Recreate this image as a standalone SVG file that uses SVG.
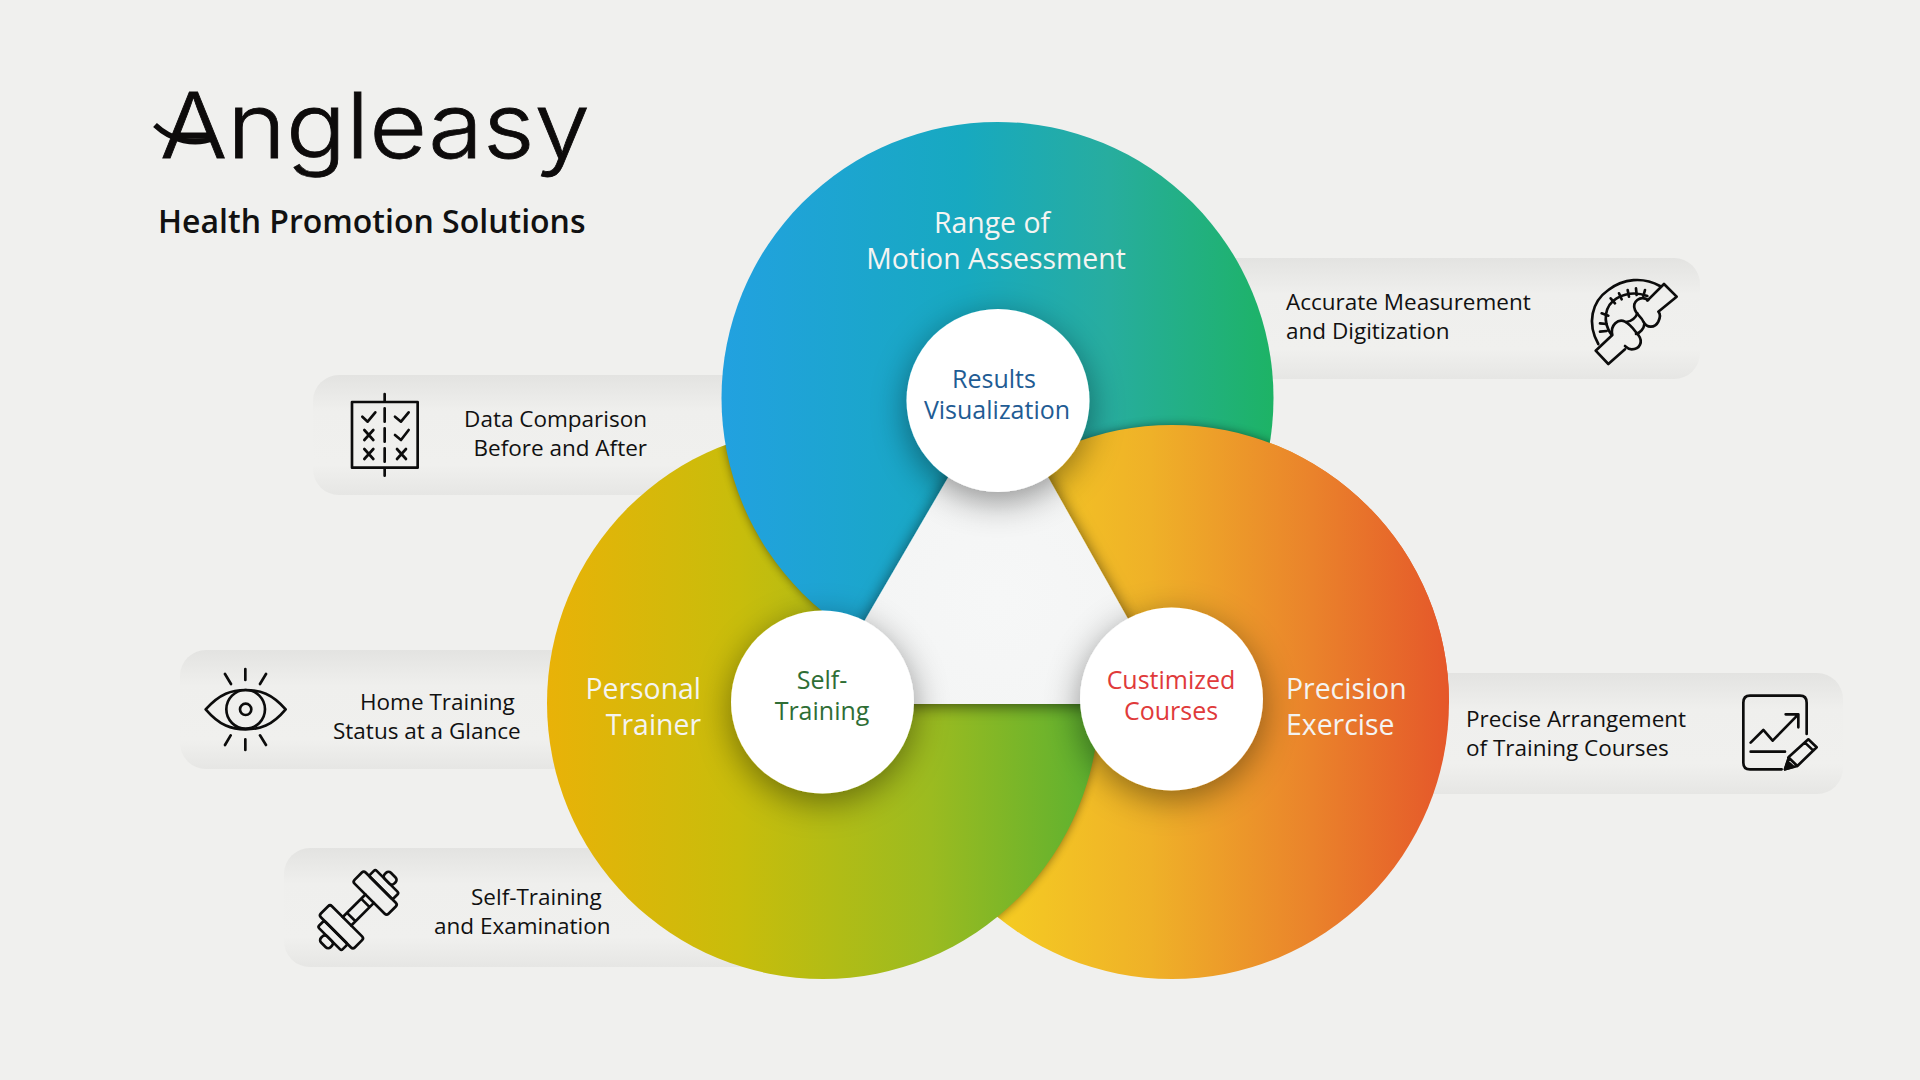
<svg xmlns="http://www.w3.org/2000/svg" width="1920" height="1080" viewBox="0 0 1920 1080">
<style>
text{font-family:"Open Sans","Noto Sans","Liberation Sans",sans-serif}
.p{font-size:22.5px;fill:#111}
.t{font-size:28.4px;fill:#f4f4f2;font-weight:500}
.c{font-size:25px;font-weight:500}
.i{fill:none;stroke:#0c0c0c;stroke-width:8;stroke-linecap:round;stroke-linejoin:round}
.pill{fill:url(#pg)}
</style>
<defs>
<linearGradient id="pg" x1="0" y1="0" x2="0" y2="1"><stop offset="0" stop-color="#e3e3e1"/><stop offset=".3" stop-color="#efefed"/><stop offset=".75" stop-color="#f0f0ee"/><stop offset="1" stop-color="#e6e6e4"/></linearGradient>
<linearGradient id="gb" gradientUnits="userSpaceOnUse" x1="721" y1="0" x2="1274" y2="0"><stop offset="0" stop-color="#22a1e0"/><stop offset=".44" stop-color="#17a9c0"/><stop offset=".7" stop-color="#27ad9f"/><stop offset="1" stop-color="#1db365"/></linearGradient>
<linearGradient id="go" gradientUnits="userSpaceOnUse" x1="990" y1="0" x2="1449" y2="0"><stop offset="0" stop-color="#f5cd22"/><stop offset=".35" stop-color="#efb128"/><stop offset=".7" stop-color="#ea832b"/><stop offset="1" stop-color="#e5572a"/></linearGradient>
<linearGradient id="gg" gradientUnits="userSpaceOnUse" x1="546" y1="0" x2="1096" y2="0"><stop offset="0" stop-color="#e9b208"/><stop offset=".35" stop-color="#c8bd0b"/><stop offset=".7" stop-color="#9bbb20"/><stop offset="1" stop-color="#5cb130"/></linearGradient>
<radialGradient id="gt" gradientUnits="userSpaceOnUse" cx="998" cy="600" r="200"><stop offset="0" stop-color="#f6f7f7"/><stop offset="1" stop-color="#f3f4f4"/></radialGradient>
<filter id="b" x="-10%" y="-10%" width="120%" height="120%"><feGaussianBlur stdDeviation="5"/></filter>
<filter id="ts" x="-15%" y="-15%" width="130%" height="130%"><feDropShadow dx="0" dy="2" stdDeviation="8" flood-color="#000" flood-opacity=".6"/></filter>
<filter id="cs" x="-40%" y="-40%" width="180%" height="180%"><feDropShadow dx="0" dy="9" stdDeviation="17" flood-color="#000" flood-opacity=".42"/></filter>
<clipPath id="cb"><circle cx="997.5" cy="398" r="276"/></clipPath>
<clipPath id="cg"><circle cx="823" cy="703" r="276"/></clipPath>
<clipPath id="co"><circle cx="1172" cy="702" r="277"/></clipPath>
<clipPath id="rg"><path d="M998 600L998 0L1920 0L1920 702L1172 702Z"/></clipPath>
</defs>
<rect width="1920" height="1080" fill="#f0f0ee"/>
<g id="logo">
<text x="160" y="158" font-size="91" font-weight="300" textLength="430" lengthAdjust="spacingAndGlyphs" stroke="#0d0b0b" stroke-width=".8" style="fill:#0d0b0b;font-family:Inter,'Open Sans',sans-serif">Angleasy</text>
<path d="M155 125C172 141 195 146 214 138" fill="none" stroke="#0d0b0b" stroke-width="5.5"/>
<text x="158" y="233" font-size="32" font-weight="600" fill="#111">Health Promotion Solutions</text>
</g>
<g id="pills">
<rect class="pill" x="1180" y="258" width="520" height="121" rx="26"/>
<rect class="pill" x="313" y="375" width="520" height="120" rx="26"/>
<rect class="pill" x="180" y="650" width="500" height="119" rx="26"/>
<rect class="pill" x="284" y="848" width="560" height="119" rx="26"/>
<rect class="pill" x="1340" y="673" width="503" height="121" rx="26"/>
</g>
<g id="petals">
<circle cx="1172" cy="702" r="277" fill="url(#go)"/>
<g clip-path="url(#co)"><circle cx="823" cy="703" r="276" fill="#000" opacity=".45" filter="url(#b)"/></g>
<circle cx="823" cy="703" r="276" fill="url(#gg)"/>
<g clip-path="url(#cg)"><circle cx="997.5" cy="398" r="276" fill="#000" opacity=".45" filter="url(#b)"/></g>
<circle cx="997.5" cy="398" r="276" fill="url(#gb)"/>
<g clip-path="url(#rg)">
<g clip-path="url(#cb)"><circle cx="1172" cy="702" r="277" fill="#000" opacity=".45" filter="url(#b)"/></g>
<circle cx="1172" cy="702" r="277" fill="url(#go)"/>
</g>
<path id="triangle" d="M999 390L816 704L1176 704Z" fill="url(#gt)" filter="url(#ts)"/>
</g>
<g id="node-range"><text class="t" x="992" y="233" text-anchor="middle">Range of</text><text class="t" x="996" y="269" text-anchor="middle">Motion Assessment</text></g>
<g id="node-personal"><text class="t" x="701" y="699" text-anchor="end">Personal</text><text class="t" x="701" y="735" text-anchor="end">Trainer</text></g>
<g id="node-precision"><text class="t" x="1286" y="699">Precision</text><text class="t" x="1286" y="735">Exercise</text></g>
<g id="node-results"><circle cx="998" cy="400.5" r="91.5" fill="#fff" filter="url(#cs)"/><text class="c" x="994" y="388" text-anchor="middle" fill="#1f5c94">Results</text><text class="c" x="997" y="419" text-anchor="middle" fill="#1f5c94">Visualization</text></g>
<g id="node-self"><circle cx="822.5" cy="702" r="91.5" fill="#fff" filter="url(#cs)"/><text class="c" x="822" y="689" text-anchor="middle" fill="#2f6e35">Self-</text><text class="c" x="822" y="720" text-anchor="middle" fill="#2f6e35">Training</text></g>
<g id="node-custom"><circle cx="1171.5" cy="699" r="91.5" fill="#fff" filter="url(#cs)"/><text class="c" x="1171" y="689" text-anchor="middle" fill="#e03a3a">Custimized</text><text class="c" x="1171" y="720" text-anchor="middle" fill="#e03a3a">Courses</text></g>
<g id="item-measurement">
<text class="p" x="1286" y="310">Accurate Measurement</text><text class="p" x="1286" y="339">and Digitization</text>
<g class="i" transform="translate(1560 260) scale(.3333)">
<path d="M115 252C80 190 95 125 145 90C190 55 250 50 300 78"/>
<path d="M155 225C125 185 135 135 170 115C200 98 235 98 262 108"/>
<path d="M120 215L140 213M120 190L140 192M125 160L145 167M152 115L165 130M177 100L185 118M203 90L207 110M228 85L230 105M255 90L250 108"/>
<path d="M195 268L145 312L107 272L157 225C150 195 175 175 195 185C215 195 225 215 235 225C250 245 240 268 215 268C205 268 200 262 195 258"/>
<path d="M265 120C240 105 215 125 225 150C230 165 245 170 250 185C260 205 285 205 295 185C302 170 300 160 295 155L350 110L312 72L262 122"/>
<path d="M198 186C215 185 228 172 232 160M228 222C242 218 252 205 253 192"/>
</g>
</g>
<g id="item-comparison">
<text class="p" x="647" y="427" text-anchor="end">Data Comparison</text><text class="p" x="647" y="456" text-anchor="end">Before and After</text>
<g class="i" transform="translate(330 380) scale(.3333)">
<rect x="66" y="66" width="197" height="197"/>
<path d="M164 42V64M164 85V125M164 145V185M164 205V245M164 265V287"/>
<path d="M97 110L113 125L136 97M195 110L213 125L236 97M195 165L213 180L236 150"/>
<path d="M103 150L130 180M130 150L103 180M103 207L130 237M130 207L103 237M201 207L228 237M228 207L201 237"/>
</g>
</g>
<g id="item-home">
<text class="p" x="360" y="710">Home Training</text><text class="p" x="333" y="739">Status at a Glance</text>
<g class="i" transform="translate(190 650) scale(.3333)">
<path d="M47 178C90 130 125 120 167 120C210 120 245 130 287 178C245 228 210 238 167 238C125 238 90 228 47 178Z"/>
<circle cx="167" cy="178" r="58"/><circle cx="167" cy="178" r="17"/>
<path d="M166 57V90M105 72L123 102M228 72L210 102M166 268V300M122 256L105 285M210 256L228 285"/>
</g>
</g>
<g id="item-selftraining">
<text class="p" x="471" y="905">Self-Training</text><text class="p" x="434" y="934">and Examination</text>
<g class="i" transform="translate(300 850) scale(.3333) translate(175 180) rotate(-45)">
<rect x="48" y="-72" width="47" height="144" rx="8"/><rect x="95" y="-50" width="27" height="100" rx="6"/><rect x="122" y="-20" width="26" height="40" rx="10"/>
<rect x="-95" y="-72" width="47" height="144" rx="8"/><rect x="-122" y="-50" width="27" height="100" rx="6"/><rect x="-148" y="-20" width="26" height="40" rx="10"/>
<path d="M-48 -18H48M-48 18H48M-30 -18V18M30 -18V18"/>
</g>
</g>
<g id="item-arrangement">
<text class="p" x="1466" y="727">Precise Arrangement</text><text class="p" x="1466" y="756">of Training Courses</text>
<g class="i" transform="translate(1720 680) scale(.3333)">
<path d="M185 268H90Q70 268 70 248V68Q70 47 90 47H240Q260 47 260 68V162"/>
<path d="M92 188L130 150L158 182L235 103M197 103H235V142M92 215H195"/>
<path d="M195 268L207 230L265 178L290 202L232 258ZM255 188L280 212M205 232L232 258"/>
<path d="M195 268L203 245L220 260Z" fill="#0c0c0c"/>
</g>
</g>
</svg>
